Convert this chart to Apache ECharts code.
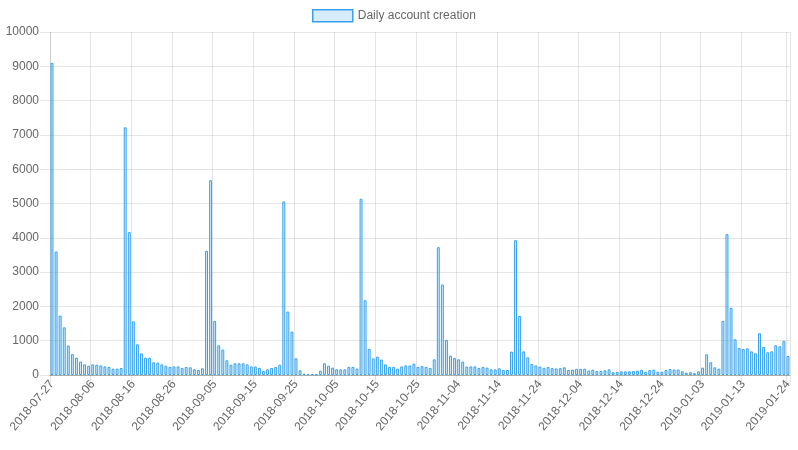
<!DOCTYPE html>
<html>
<head>
<meta charset="utf-8">
<script src="https://cdn.jsdelivr.net/npm/echarts@6/dist/echarts.min.js"></script>
<style>
html,body{margin:0;padding:0;background:#fff;}
#chart{width:798px;height:450px;}
</style>
</head>
<body>
<div id="chart"></div>
<script>
const seriesName = 'Daily account creation';
const startDate = '2018-07-27';
const dayCount = 182;
const dailyAccounts = [
  9100,3600,1730,1390,860,610,505,390,310,270,
  310,300,280,250,235,185,185,205,7220,4165,
  1566,895,630,505,505,370,360,310,270,235,
  250,250,205,235,225,165,145,195,3620,5680,
  1576,866,740,430,300,340,340,340,310,250,
  250,205,115,165,205,235,300,5060,1850,1265,
  486,136,40,30,20,20,126,340,270,215,
  165,165,165,235,235,185,5137,2180,760,486,
  535,450,310,235,235,185,250,280,280,330,
  235,260,235,205,457,3727,2637,1022,564,496,
  457,390,245,250,250,205,235,215,165,165,
  195,145,145,681,3930,1720,690,515,320,280,
  245,210,235,200,190,200,225,145,155,180,
  180,185,130,155,115,115,135,165,80,90,
  105,105,105,115,125,155,95,145,155,95,
  97,146,175,160,160,107,68,80,55,107,
  214,603,370,224,185,1576,4106,1956,1041,788,
  759,778,690,632,1216,817,662,690,866,837,
  992,555
];
const yTicks = {min: 0, max: 10000, step: 1000};

// build the date categories
const categories = [];
(function(){
  const d = new Date(startDate + 'T00:00:00Z');
  for (let i = 0; i < dayCount; i++) {
    categories.push(d.toISOString().slice(0,10));
    d.setUTCDate(d.getUTCDate() + 1);
  }
})();

const showTick = function(idx){
  return (idx % 10 === 0 && idx + 10 < dayCount) || idx === dayCount - 1;
};

const chart = echarts.init(document.getElementById('chart'), null, {renderer:'canvas'});
chart.setOption({
  animation: false,
  textStyle: {fontFamily: 'Liberation Sans, Arial, sans-serif'},
  legend: {
    top: 9,
    left: 312,
    padding: 0,
    icon: 'rect',
    itemWidth: 40,
    itemHeight: 12,
    itemStyle: {color:'rgba(54,162,235,0.2)', borderColor:'rgb(54,162,235)', borderWidth:1.5},
    textStyle: {color:'#666', fontSize:12, fontFamily:'Liberation Sans, Arial, sans-serif'},
    data: [seriesName]
  },
  grid: {left: 50, right: 8, top: 32, bottom: 75, containLabel: false},
  xAxis: {
    type: 'category',
    data: categories,
    boundaryGap: true,
    axisLine: {show:true, lineStyle:{color:'rgba(0,0,0,0.25)', width:1}},
    axisTick: {show:true, interval: showTick, length: 10, lineStyle:{color:'rgba(0,0,0,0.1)'}},
    splitLine: {show:true, interval: showTick, lineStyle:{color:'rgba(0,0,0,0.1)', width:1}},
    axisLabel: {
      interval: showTick,
      rotate: 50,
      color:'#666',
      fontSize: 12,
      margin: 7,
      fontFamily:'Liberation Sans, Arial, sans-serif'
    }
  },
  yAxis: {
    type: 'value',
    min: yTicks.min,
    max: yTicks.max,
    interval: yTicks.step,
    axisLine: {show:true, lineStyle:{color:'rgba(0,0,0,0.1)'}},
    axisTick: {show:true, length: 10, lineStyle:{color:'rgba(0,0,0,0.1)'}},
    splitLine: {show:true, lineStyle:{color:'rgba(0,0,0,0.1)'}},
    axisLabel: {color:'#666', fontSize:12, margin: 11, formatter: function(v){ return String(v); }, fontFamily:'Liberation Sans, Arial, sans-serif'}
  },
  series: [{
    name: seriesName,
    type: 'bar',
    data: dailyAccounts,
    barCategoryGap: '28%',
    itemStyle: {color:'rgba(54,162,235,0.2)', borderColor:'rgb(54,162,235)', borderWidth:1}
  }]
});
</script>
</body>
</html>
